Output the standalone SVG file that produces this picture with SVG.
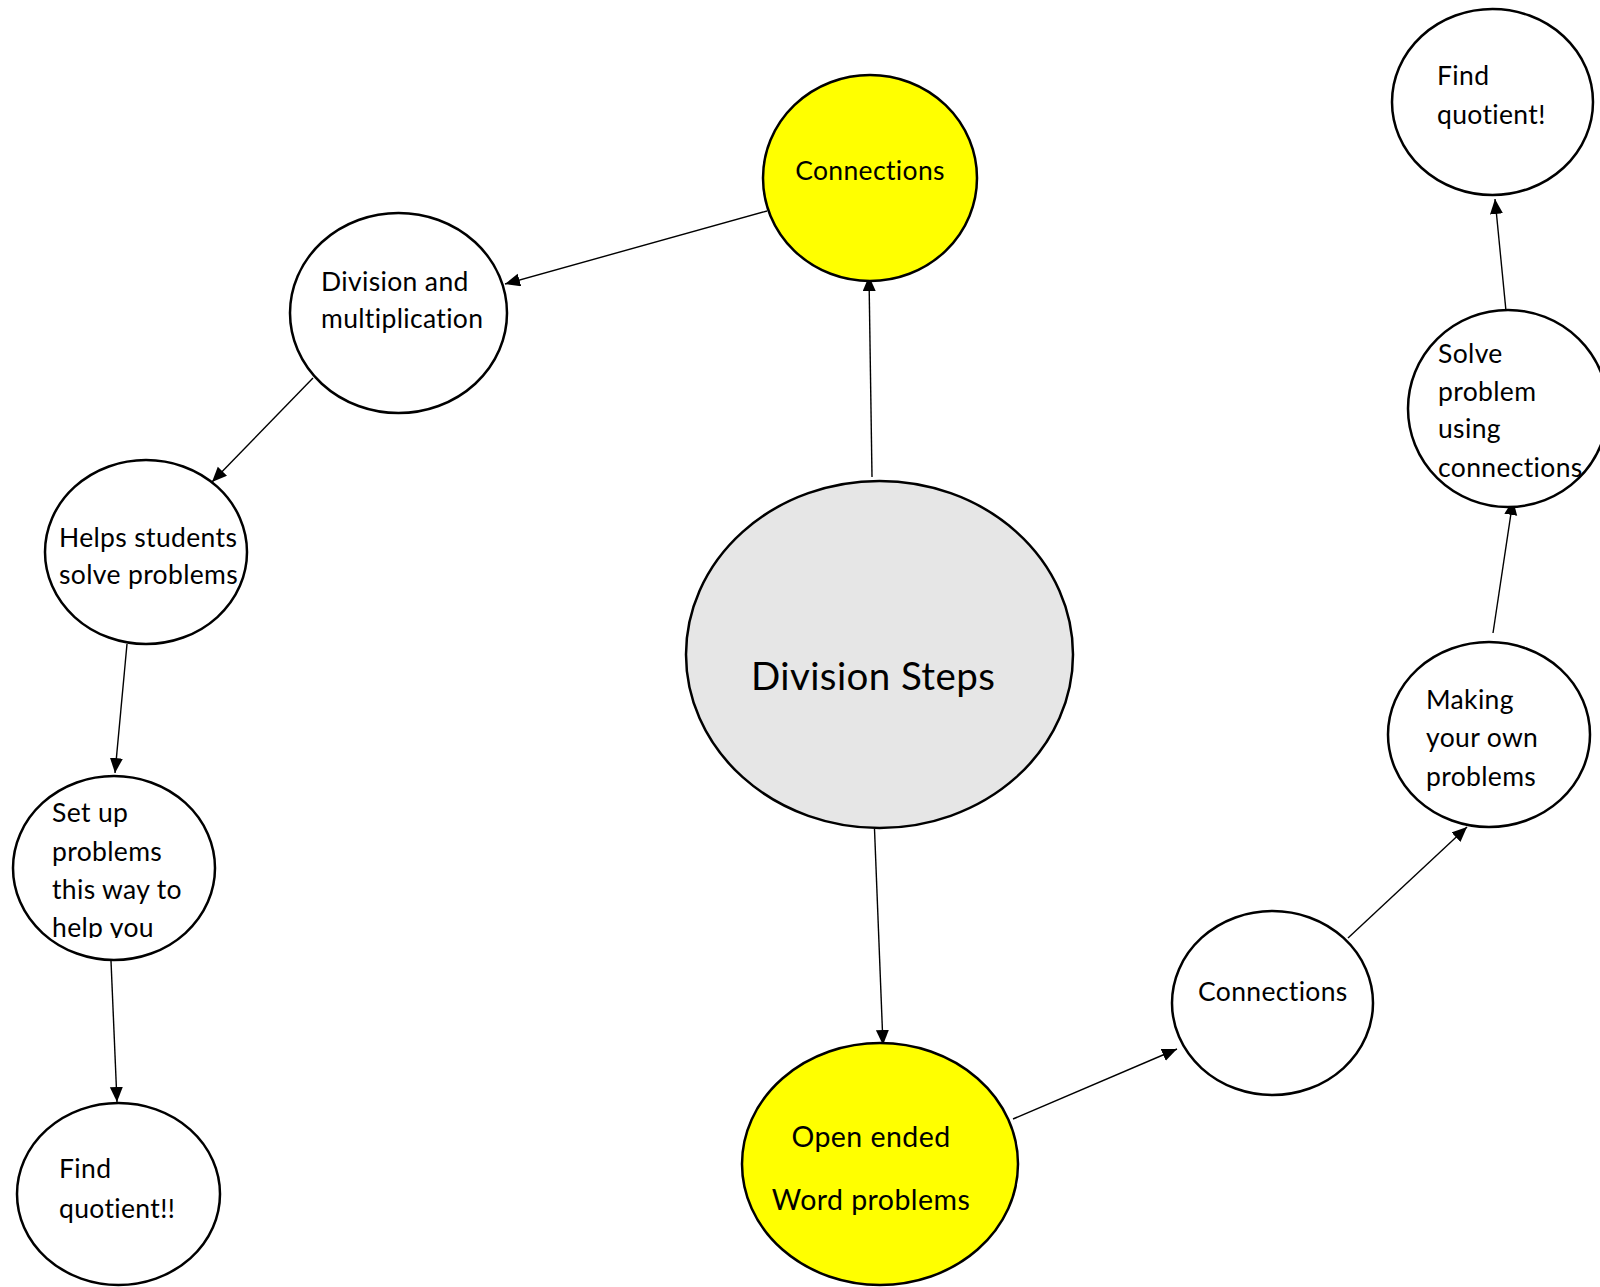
<svg xmlns="http://www.w3.org/2000/svg" width="1600" height="1287" viewBox="0 0 1600 1287">
<defs>
<marker id="arr" markerUnits="userSpaceOnUse" markerWidth="16" markerHeight="14" refX="15" refY="6.5" orient="auto">
<path d="M0,0 L15,6.5 L0,13 z" fill="#000"/>
</marker>
<clipPath id="clipSetup"><rect x="0" y="760" width="240" height="178"/></clipPath>
<style>
.node{stroke:#000;stroke-width:2.5;fill:#fff}
.yellow{fill:#ffff00}
.grey{fill:#e6e6e6}
.t{font-family:Lato,"Liberation Sans",sans-serif;font-size:26.5px;letter-spacing:0.35px;font-variant-ligatures:none;fill:#000}
.big{font-size:38.5px;letter-spacing:0.4px}
.mid{font-size:28.5px;letter-spacing:0.45px}
.edge{stroke:#000;stroke-width:1.4;fill:none;marker-end:url(#arr)}
</style>
</defs>
<rect width="1600" height="1287" fill="#fff"/>
<g id="connectors">
<line class="edge" x1="872" y1="477" x2="869" y2="276"/>
<line class="edge" x1="767" y1="211" x2="505" y2="284"/>
<line class="edge" x1="313" y1="378" x2="212" y2="482"/>
<line class="edge" x1="127" y1="644" x2="115" y2="773"/>
<line class="edge" x1="111" y1="961" x2="117" y2="1102"/>
<line class="edge" x1="874.5" y1="829" x2="883" y2="1045"/>
<line class="edge" x1="1013" y1="1119" x2="1177" y2="1049"/>
<line class="edge" x1="1348" y1="938" x2="1467" y2="827"/>
<line class="edge" x1="1493" y1="633" x2="1513" y2="500"/>
<line class="edge" x1="1506" y1="311" x2="1495" y2="199"/>
</g>
<g id="node-division-steps">
<ellipse class="node grey" cx="879.5" cy="654.5" rx="193.5" ry="173.5"/>
<text class="t big" x="751" y="690">Division Steps</text>
</g>
<g id="node-connections-top">
<ellipse class="node yellow" cx="870" cy="178" rx="107" ry="103"/>
<text class="t" x="870" y="180" text-anchor="middle">Connections</text>
</g>
<g id="node-division-multiplication">
<ellipse class="node" cx="398.5" cy="313" rx="108.5" ry="100"/>
<text class="t" x="321" y="291">Division and</text>
<text class="t" x="321" y="328">multiplication</text>
</g>
<g id="node-helps-students">
<ellipse class="node" cx="146" cy="552" rx="101" ry="92"/>
<text class="t" x="59" y="547">Helps students</text>
<text class="t" x="59" y="584">solve problems</text>
</g>
<g id="node-set-up">
<ellipse class="node" cx="114" cy="868" rx="101" ry="92"/>
<g clip-path="url(#clipSetup)">
<text class="t" x="52" y="822">Set up</text>
<text class="t" x="52" y="861">problems</text>
<text class="t" x="52" y="899">this way to</text>
<text class="t" x="52" y="937">help you</text>
</g>
</g>
<g id="node-find-quotient-left">
<ellipse class="node" cx="118.5" cy="1194" rx="101.5" ry="91"/>
<text class="t" x="59" y="1178">Find</text>
<text class="t" x="59" y="1218">quotient!!</text>
</g>
<g id="node-open-ended">
<ellipse class="node yellow" cx="880" cy="1164" rx="138" ry="121"/>
<text class="t mid" x="871" y="1147" text-anchor="middle">Open ended</text>
<text class="t mid" x="871" y="1210" text-anchor="middle">Word problems</text>
</g>
<g id="node-connections-right">
<ellipse class="node" cx="1272.5" cy="1003" rx="100.5" ry="92"/>
<text class="t" x="1198" y="1001">Connections</text>
</g>
<g id="node-making">
<ellipse class="node" cx="1489" cy="734.5" rx="101" ry="92.5"/>
<text class="t" x="1426" y="709">Making</text>
<text class="t" x="1426" y="747">your own</text>
<text class="t" x="1426" y="786">problems</text>
</g>
<g id="node-solve">
<ellipse class="node" cx="1508" cy="408.5" rx="100" ry="98.5"/>
<text class="t" x="1438" y="363">Solve</text>
<text class="t" x="1438" y="401">problem</text>
<text class="t" x="1438" y="438">using</text>
<text class="t" x="1438" y="477">connections</text>
</g>
<g id="node-find-quotient-right">
<ellipse class="node" cx="1492.5" cy="102" rx="100.5" ry="93"/>
<text class="t" x="1437" y="85">Find</text>
<text class="t" x="1437" y="124">quotient!</text>
</g>
</svg>
